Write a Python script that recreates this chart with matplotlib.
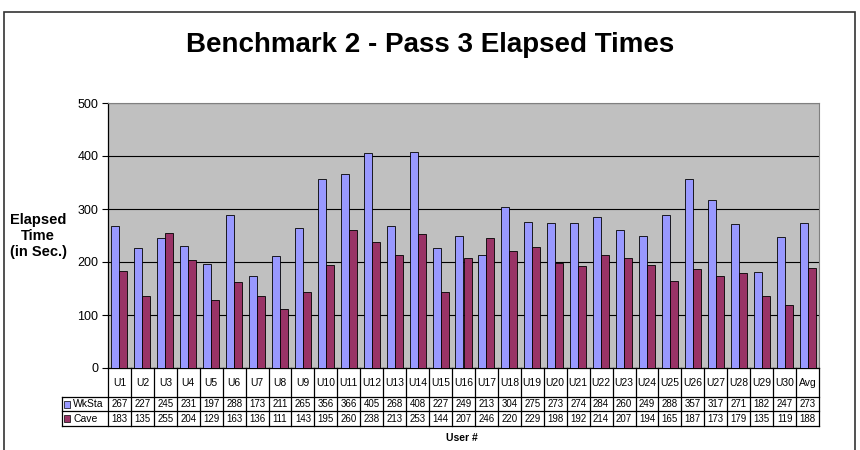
import matplotlib
matplotlib.use("Agg")
import matplotlib.pyplot as plt
import matplotlib.transforms as mtransforms
from matplotlib.patches import Rectangle
import numpy as np

plt.rcParams['font.family'] = ['Liberation Sans', 'DejaVu Sans']

users = ["U%d" % i for i in range(1, 31)] + ["Avg"]
wksta = [267, 227, 245, 231, 197, 288, 173, 211, 265, 356, 366, 405, 268, 408, 227,
         249, 213, 304, 275, 273, 274, 284, 260, 249, 288, 357, 317, 271, 182, 247, 273]
cave = [183, 135, 255, 204, 129, 163, 136, 111, 143, 195, 260, 238, 213, 253, 144,
        207, 246, 220, 229, 198, 192, 214, 207, 194, 165, 187, 173, 179, 135, 119, 188]
series_names = ["WkSta", "Cave"]
yticks = [0, 100, 200, 300, 400, 500]

c_wk = "#9999FF"
c_cave = "#993366"

W, H = 860, 450
fig = plt.figure(figsize=(W / 100, H / 100), dpi=100)


def fy(py):
    # pixel row -> figure fraction
    return 1 - py / H


def fx(px):
    return px / W


# outer chart border
fig.patches.append(Rectangle((fx(4), fy(452)), fx(851), fy(12) - fy(452),
                             transform=fig.transFigure, fill=False,
                             edgecolor="#333333", linewidth=1.2))

left, right, top, bottom = 108, 819, 103, 368
ax = fig.add_axes([fx(left), fy(bottom), fx(right - left), fy(top) - fy(bottom)])
ax.set_facecolor("#C0C0C0")

x = np.arange(len(users))
bw = 0.35
ax.bar(x - bw / 2, wksta, bw, color=c_wk, edgecolor="black", linewidth=0.6, zorder=3)
ax.bar(x + bw / 2, cave, bw, color=c_cave, edgecolor="black", linewidth=0.6, zorder=3)

ax.set_xlim(-0.5, len(users) - 0.5)
ax.set_ylim(0, 500)
ax.set_yticks(yticks)
ax.tick_params(axis="y", labelsize=9, length=4, width=0.8, pad=3)
ax.set_xticks([])
ax.yaxis.grid(True, color="black", linewidth=0.8, zorder=1)
ax.set_axisbelow(True)
for s in ["top", "right"]:
    ax.spines[s].set_color("#808080")
for s in ["left", "bottom"]:
    ax.spines[s].set_color("black")
    ax.spines[s].set_linewidth(0.9)

fig.text(0.5, fy(45), "Benchmark 2 - Pass 3 Elapsed Times", fontsize=20,
         fontweight="bold", ha="center", va="center")

fig.text(fx(38), fy(236), "Elapsed\nTime\n(in Sec.)", fontsize=10.5, fontweight="bold",
         ha="center", va="center", linespacing=1.2)

# data table under the plot
tr = mtransforms.blended_transform_factory(ax.transData, fig.transFigure)
row_top, row_hdr, row_1, row_2 = 368, 397, 411, 426
lw = 0.9
x_leg = -0.5 - (left - 62) / ((right - left) / len(users))

for b in np.arange(-0.5, len(users), 1.0):
    fig.add_artist(plt.Line2D([b, b], [fy(row_top), fy(row_2)], transform=tr,
                              color="black", linewidth=lw))
for yy in [row_hdr, row_1, row_2]:
    fig.add_artist(plt.Line2D([x_leg, len(users) - 0.5], [fy(yy), fy(yy)],
                              transform=tr, color="black", linewidth=lw))
fig.add_artist(plt.Line2D([x_leg, x_leg], [fy(row_hdr), fy(row_2)], transform=tr,
                          color="black", linewidth=lw))

for i, u in enumerate(users):
    fig.text(i, fy((row_top + row_hdr) / 2), u, transform=tr, fontsize=7.5,
             ha="center", va="center")
    fig.text(i, fy((row_hdr + row_1) / 2), str(wksta[i]), transform=tr, fontsize=7,
             ha="center", va="center")
    fig.text(i, fy((row_1 + row_2) / 2), str(cave[i]), transform=tr, fontsize=7,
             ha="center", va="center")

for name, col, (ya, yb) in zip(series_names, [c_wk, c_cave],
                               [(row_hdr, row_1), (row_1, row_2)]):
    yc = (ya + yb) / 2
    fig.patches.append(Rectangle((fx(64), fy(yc + 3.5)), fx(6), fy(yc - 3.5) - fy(yc + 3.5),
                                 transform=fig.transFigure, facecolor=col,
                                 edgecolor="black", linewidth=0.5))
    fig.text(fx(73), fy(yc), name, fontsize=7.5, ha="left", va="center")

fig.text(fx(462), fy(438), "User #", fontsize=7.5, fontweight="bold",
         ha="center", va="center")

fig.savefig("out.png", dpi=100)
